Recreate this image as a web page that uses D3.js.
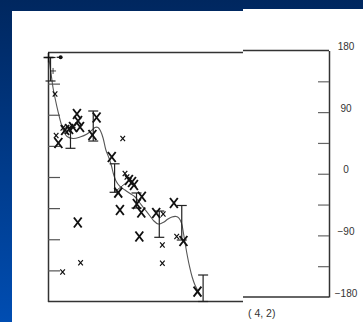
<!DOCTYPE html>
<html>
<head>
<meta charset="utf-8">
<script src="https://cdn.jsdelivr.net/npm/d3@7"></script>
<style>
  html, body { margin: 0; padding: 0; background: #00306f; }
  svg { display: block; }
  text { font-family: "Liberation Sans", Arial, Helvetica, sans-serif; }
</style>
</head>
<body>
<svg id="chart" width="363" height="322"></svg>
<script>
// Angle (degrees) against position along the sequence.
const fitCurve = [
  [0.2, 173.5], [0.7, 160.5], [1.3, 143.1], [1.8, 128.7], [2.5, 114.2], [3.6, 94.0],
  [4.8, 75.2], [5.7, 65.1], [6.8, 58.6], [8.9, 55.7], [11.4, 57.8], [13.9, 62.2],
  [15.7, 68.0], [16.7, 71.6], [17.8, 71.6], [18.7, 66.5], [19.6, 56.4], [20.6, 39.0],
  [21.7, 27.5], [22.6, 15.9], [23.3, 4.3], [24.2, -5.8], [25.6, -13.7], [27.4, -18.8],
  [29.2, -23.9], [31.0, -28.9], [32.7, -37.6], [34.5, -47.0], [36.3, -56.4], [37.7, -63.6],
  [39.2, -68.0], [40.2, -67.2], [41.3, -65.1], [42.7, -60.7], [44.1, -57.8], [45.6, -57.1],
  [46.6, -59.3], [47.5, -66.5], [48.2, -81.0], [48.9, -98.3], [49.6, -114.2], [50.4, -130.1],
  [51.3, -144.6], [52.3, -156.2], [53.6, -166.3], [54.5, -172.0]
];

const largeX = [
  [3.7, 49.2], [6.1, 68.0], [7.5, 69.4], [8.9, 72.3], [10.3, 91.1], [10.7, 81.0],
  [11.4, 72.3], [17.3, 86.0], [15.8, 60.7], [22.7, 28.9], [25.0, -22.7], [25.6, -47.7],
  [28.8, -4.3], [29.9, -7.2], [30.6, -11.6], [33.4, -28.5], [31.6, -39.0], [33.2, -51.3],
  [32.5, -86.0], [38.5, -52.0], [44.8, -37.6], [48.2, -92.5], [53.2, -165.8], [10.6, -65.8]
];

const smallX = [
  [2.5, 120.0], [2.9, 60.0], [5.3, 70.8], [26.6, 55.7], [27.4, 5.1], [28.1, 0.0],
  [41.0, -53.5], [40.7, -98.3], [40.7, -124.8], [45.8, -86.0], [11.6, -123.9], [5.2, -137.4]
];

const plusMarks = [[0.2, 172.8, 1], [1.8, 153.3, 0.6]];
const dotMarks = [[4.5, 173.1]];

// [position, upper, lower]
const errorBars = [
  [0.9, 172.8, 138.8], [8.0, 71.6, 41.5], [16.1, 95.4, 52.0], [23.7, 19.1, -22.1],
  [31.5, -23.1, -44.8], [39.6, -49.2, -87.2], [47.6, -41.2, -91.1], [55.2, -141.7, -180]
];

const linkSegment = [[23.8, -21.3], [29.8, -1.9]];

const minorTicks = [135, 90, 45, 0, -45, -90, -135];
const labelTicks = [180, 90, 0, -90, -180];
const panelLabel = "( 4, 2)";

const svg = d3.select("#chart");

// Slide background
const defs = svg.append("defs");
const grad = defs.append("linearGradient").attr("id", "bg").attr("x1", 0).attr("y1", 0).attr("x2", 0).attr("y2", 1);
grad.append("stop").attr("offset", "0%").attr("stop-color", "#00275f");
grad.append("stop").attr("offset", "100%").attr("stop-color", "#004db2");
svg.append("rect").attr("width", 363).attr("height", 322).attr("fill", "url(#bg)");

// White sheet, in two slightly offset pieces
svg.append("rect").attr("x", 12).attr("y", 11).attr("width", 232).attr("height", 311).attr("fill", "#fff");
svg.append("rect").attr("x", 243).attr("y", 9).attr("width", 120).attr("height", 313).attr("fill", "#fff");

const x = d3.scaleLinear().domain([0, 100]).range([48, 329]);
const yL = d3.scaleLinear().domain([-180, 180]).range([301.5, 52.5]);
const yR = d3.scaleLinear().domain([-180, 180]).range([297, 50.5]);

const frameColor = "#333";

// Frame: left piece
svg.append("line").attr("x1", 48).attr("x2", 243).attr("y1", yL(180)).attr("y2", yL(180))
  .attr("stroke", frameColor).attr("stroke-width", 1.5);
svg.append("line").attr("x1", 48).attr("x2", 243).attr("y1", yL(-180)).attr("y2", yL(-180))
  .attr("stroke", frameColor).attr("stroke-width", 1.5);
// Frame: right piece
svg.append("line").attr("x1", 243).attr("x2", 329).attr("y1", yR(180)).attr("y2", yR(180))
  .attr("stroke", frameColor).attr("stroke-width", 1.5);
svg.append("line").attr("x1", 243).attr("x2", 329).attr("y1", yR(-180)).attr("y2", yR(-180))
  .attr("stroke", frameColor).attr("stroke-width", 1.5);

// Left axis, ticks pointing inward
const leftAxis = svg.append("g").attr("transform", "translate(48,0)")
  .call(d3.axisRight(yL).tickValues(minorTicks).tickSize(12).tickSizeOuter(0).tickFormat(""));
leftAxis.selectAll("path").attr("stroke", frameColor).attr("stroke-width", 1.5);
leftAxis.selectAll("line").attr("stroke", "#555").attr("stroke-width", 1.2);

// Right axis, ticks pointing inward
const rightAxis = svg.append("g").attr("transform", "translate(329,0)")
  .call(d3.axisLeft(yR).tickValues(minorTicks).tickSize(11).tickSizeOuter(0).tickFormat(""));
rightAxis.selectAll("path").attr("stroke", frameColor).attr("stroke-width", 1.5);
rightAxis.selectAll("line").attr("stroke", "#666").attr("stroke-width", 1.2);

// Right axis labels
const labels = svg.append("g").attr("transform", "translate(329,0)")
  .call(d3.axisRight(yR).tickValues(labelTicks).tickSize(0).tickPadding(17).tickFormat(d3.format("d")));
labels.select(".domain").remove();
labels.selectAll("text")
  .attr("text-anchor", "middle")
  .attr("dy", null)
  .attr("dominant-baseline", "middle")
  .attr("y", -3.5)
  .style("font-size", "10px")
  .attr("fill", "#333");

// Panel label
svg.append("text").attr("x", 248).attr("y", 317).attr("fill", "#333")
  .style("font-size", "10.5px").text(panelLabel);

const plot = svg.append("g");

// Fitted curve
plot.append("path").datum(fitCurve)
  .attr("fill", "none").attr("stroke", "#555").attr("stroke-width", 1.1)
  .attr("d", d3.line().x(d => x(d[0])).y(d => yL(d[1])).curve(d3.curveCatmullRom));

plot.append("path").datum(linkSegment)
  .attr("fill", "none").attr("stroke", "#444").attr("stroke-width", 1)
  .attr("d", d3.line().x(d => x(d[0])).y(d => yL(d[1])));

// Error bars
const capHalf = 5;
const eb = plot.selectAll("g.eb").data(errorBars).join("g").attr("class", "eb")
  .attr("stroke", "#222").attr("stroke-width", 1.2);
eb.append("line").attr("x1", d => x(d[0])).attr("x2", d => x(d[0]))
  .attr("y1", d => yL(d[1])).attr("y2", d => yL(d[2]));
eb.append("line").attr("x1", d => x(d[0]) - capHalf).attr("x2", d => x(d[0]) + capHalf)
  .attr("y1", d => yL(d[1])).attr("y2", d => yL(d[1]));
eb.append("line").attr("x1", d => x(d[0]) - capHalf).attr("x2", d => x(d[0]) + capHalf)
  .attr("y1", d => yL(d[2])).attr("y2", d => yL(d[2]));

function crossPath(hw, hh) {
  return `M${-hw},${-hh}L${hw},${hh}M${hw},${-hh}L${-hw},${hh}`;
}

plot.selectAll("path.bigx").data(largeX).join("path").attr("class", "bigx")
  .attr("transform", d => `translate(${x(d[0])},${yL(d[1])})`)
  .attr("d", crossPath(3.9, 5))
  .attr("stroke", "#111").attr("stroke-width", 1.9).attr("fill", "none");

plot.selectAll("path.smallx").data(smallX).join("path").attr("class", "smallx")
  .attr("transform", d => `translate(${x(d[0])},${yL(d[1])})`)
  .attr("d", crossPath(2.3, 2.6))
  .attr("stroke", "#111").attr("stroke-width", 1.2).attr("fill", "none");

plot.selectAll("path.plus").data(plusMarks).join("path").attr("class", "plus")
  .attr("transform", d => `translate(${x(d[0])},${yL(d[1])}) scale(${d[2]})`)
  .attr("d", "M-5,0L5,0M0,-5L0,5")
  .attr("stroke", "#111").attr("stroke-width", 1.3).attr("fill", "none");

const dots = plot.selectAll("g.dot").data(dotMarks).join("g").attr("class", "dot")
  .attr("transform", d => `translate(${x(d[0])},${yL(d[1])})`);
dots.append("line").attr("x1", -4).attr("x2", 0).attr("y1", 0).attr("y2", 0)
  .attr("stroke", "#111").attr("stroke-width", 1.2);
dots.append("circle").attr("r", 2).attr("fill", "#111");
</script>
</body>
</html>
